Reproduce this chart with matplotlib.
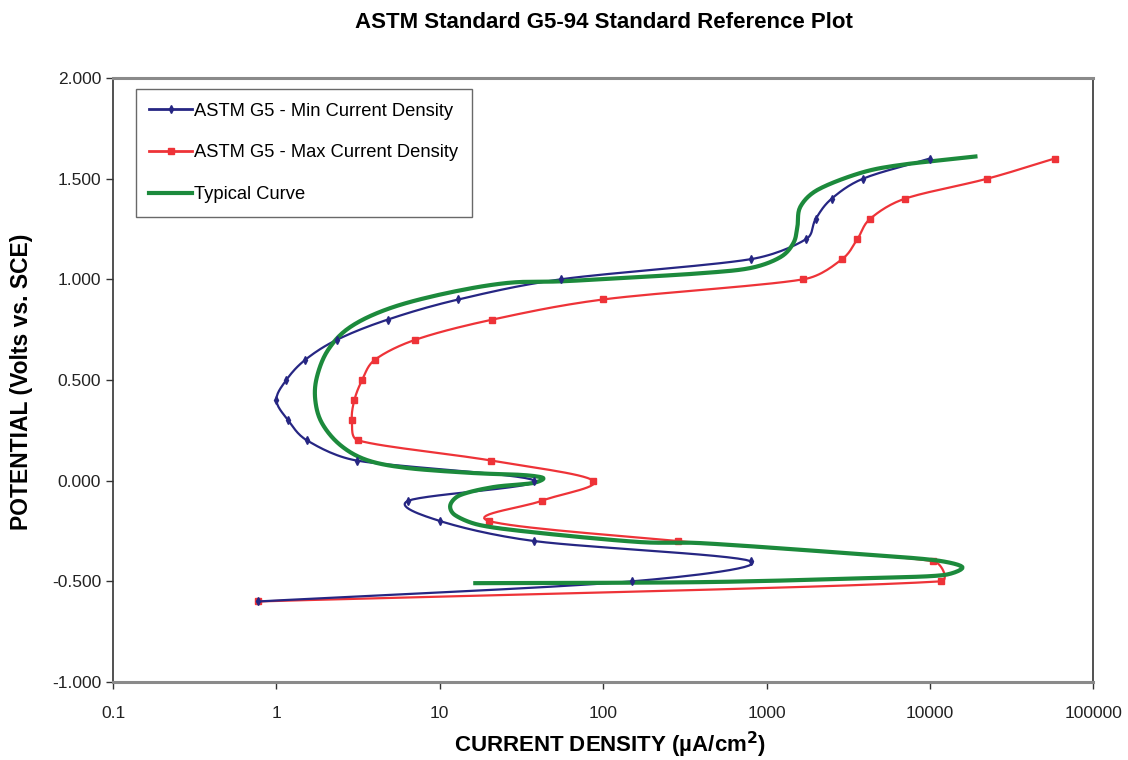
import matplotlib
matplotlib.use("Agg")
import matplotlib.pyplot as plt
import numpy as np
from matplotlib.ticker import FixedLocator, FixedFormatter, FormatStrFormatter, NullLocator

plt.rcParams['font.family'] = ['Liberation Sans', 'DejaVu Sans']

# potential steps (V vs. SCE) for the two ASTM G5 bounding curves
potential = [1.6, 1.5, 1.4, 1.3, 1.2, 1.1, 1.0, 0.9, 0.8, 0.7, 0.6, 0.5, 0.4,
             0.3, 0.2, 0.1, 0.0, -0.1, -0.2, -0.3, -0.4, -0.5, -0.6]
current_min = [10000, 3900, 2500, 2000, 1750, 800, 55, 13, 4.8, 2.35, 1.5, 1.15,
               1.0, 1.18, 1.54, 3.1, 38, 6.4, 10, 38, 800, 150, 0.77]
current_max = [58000, 22500, 7000, 4300, 3600, 2900, 1680, 100, 21, 7.1, 4.0, 3.35,
               3.0, 2.9, 3.17, 20.6, 87, 42, 20, 288, 10500, 11700, 0.77]

# typical measured curve
typ_current = [19000, 6600, 3750, 2050, 1610, 1545, 1460, 1215, 796, 393, 127, 55,
               25.9, 11.1, 4.97, 2.83, 2.07, 1.77, 1.73, 1.9, 2.46, 3.59, 6.31, 16,
               32.4, 43, 37, 21.2, 13.3, 11.6, 12.4, 17.7, 41.2, 169, 393, 2566,
               10500, 15800, 12100, 4140, 393, 16.5]
typ_potential = [1.61, 1.568, 1.528, 1.444, 1.36, 1.26, 1.18, 1.11, 1.056, 1.03,
                 1.006, 0.99, 0.982, 0.932, 0.857, 0.763, 0.649, 0.515, 0.40, 0.286,
                 0.177, 0.102, 0.063, 0.038, 0.028, 0.013, -0.012, -0.032, -0.072,
                 -0.121, -0.171, -0.221, -0.26, -0.305, -0.31, -0.355, -0.394,
                 -0.429, -0.469, -0.484, -0.504, -0.509]

x_ticks = [0.1, 1, 10, 100, 1000, 10000, 100000]
x_labels = ['0.1', '1', '10', '100', '1000', '10000', '100000']
y_ticks = [-1.0, -0.5, 0.0, 0.5, 1.0, 1.5, 2.0]


def smooth(x, y, n=16):
    # Bezier smoothing between points (log-x space), handles capped so
    # long jumps stay nearly straight instead of bulging
    sx, sy = 163.3, 201.3
    P = np.column_stack([np.log10(x) * sx, np.asarray(y) * sy])
    T = np.empty_like(P)
    T[0] = P[1] - P[0]
    T[-1] = P[-1] - P[-2]
    T[1:-1] = (P[2:] - P[:-2]) / 2
    s = np.linspace(0, 1, n)[:, None]
    out = [P[:1]]
    for i in range(len(P) - 1):
        a, b = P[i], P[i + 1]
        L = np.linalg.norm(b - a)
        ta, tb = T[i], T[i + 1]
        na, nb = max(np.linalg.norm(ta), 1e-9), max(np.linalg.norm(tb), 1e-9)
        c1 = a + ta / na * min(na / 3, 0.4 * L)
        c2 = b - tb / nb * min(nb / 3, 0.4 * L)
        seg = ((1 - s) ** 3) * a + 3 * ((1 - s) ** 2) * s * c1 \
            + 3 * (1 - s) * s ** 2 * c2 + s ** 3 * b
        out.append(seg[1:])
    out = np.vstack(out)
    return 10 ** (out[:, 0] / sx), out[:, 1] / sy


blue = '#262683'
red = '#ee3338'
green = '#1c8a3c'

fig = plt.figure(figsize=(11.28, 7.6), dpi=100)
ax = fig.add_axes([0.1002, 0.1026, 0.869, 0.7948])
ax.set_xscale('log')

bx, by = smooth(current_min, potential)
ax.plot(bx, by, color=blue, lw=1.6, zorder=3)
ax.plot(current_min, potential, ls='none', marker='d', ms=4, color=blue, zorder=4)

rx, ry = smooth(current_max, potential)
ax.plot(rx, ry, color=red, lw=1.6, zorder=2)
ax.plot(current_max, potential, ls='none', marker='s', ms=5, color=red, zorder=2)

gx, gy = smooth(typ_current, typ_potential, n=8)
ax.plot(gx, gy, color=green, lw=3, zorder=3)

ax.set_xlim(0.1, 100000)
ax.set_ylim(-1.0, 2.0)
ax.xaxis.set_major_locator(FixedLocator(x_ticks))
ax.xaxis.set_major_formatter(FixedFormatter(x_labels))
ax.xaxis.set_minor_locator(NullLocator())
ax.yaxis.set_major_locator(FixedLocator(y_ticks))
ax.yaxis.set_major_formatter(FormatStrFormatter('%.3f'))
ax.tick_params(axis='both', direction='out', length=5, width=1, color='#333333',
               labelsize=12.5, labelcolor='#222222')
ax.tick_params(axis='x', pad=12)

for side in ('top', 'bottom'):
    ax.spines[side].set_color('#8a8a8a')
    ax.spines[side].set_linewidth(2.2)
for side in ('left', 'right'):
    ax.spines[side].set_color('#333333')
    ax.spines[side].set_linewidth(1.2)

# legend entries
h1, = ax.plot([], [], color=blue, lw=2, marker='d', ms=4)
h2, = ax.plot([], [], color=red, lw=2, marker='s', ms=5)
h3, = ax.plot([], [], color=green, lw=3)
leg = ax.legend([h1, h2, h3],
                ['ASTM G5 - Min Current Density', 'ASTM G5 - Max Current Density',
                 'Typical Curve'],
                loc='upper left', bbox_to_anchor=(0.023, 0.982), fontsize=13.2,
                frameon=True, fancybox=False, edgecolor='#444444',
                handlelength=2.35, handletextpad=0.1, labelspacing=1.35,
                borderpad=0.75, borderaxespad=0)
leg.get_frame().set_linewidth(1.0)

fig.text(0.535, 0.97, 'ASTM Standard G5-94 Standard Reference Plot',
         ha='center', va='center', fontsize=16, fontweight='bold')
fig.text(0.541, 0.02, 'CURRENT DENSITY (\u00b5A/cm$^\\mathbf{2}$)',
         ha='center', va='center', fontsize=16, fontweight='bold')
fig.text(0.0195, 0.497, 'POTENTIAL (Volts vs. SCE)', rotation=90,
         ha='center', va='center', fontsize=16.5, fontweight='bold')

fig.savefig('out.png', dpi=100)
